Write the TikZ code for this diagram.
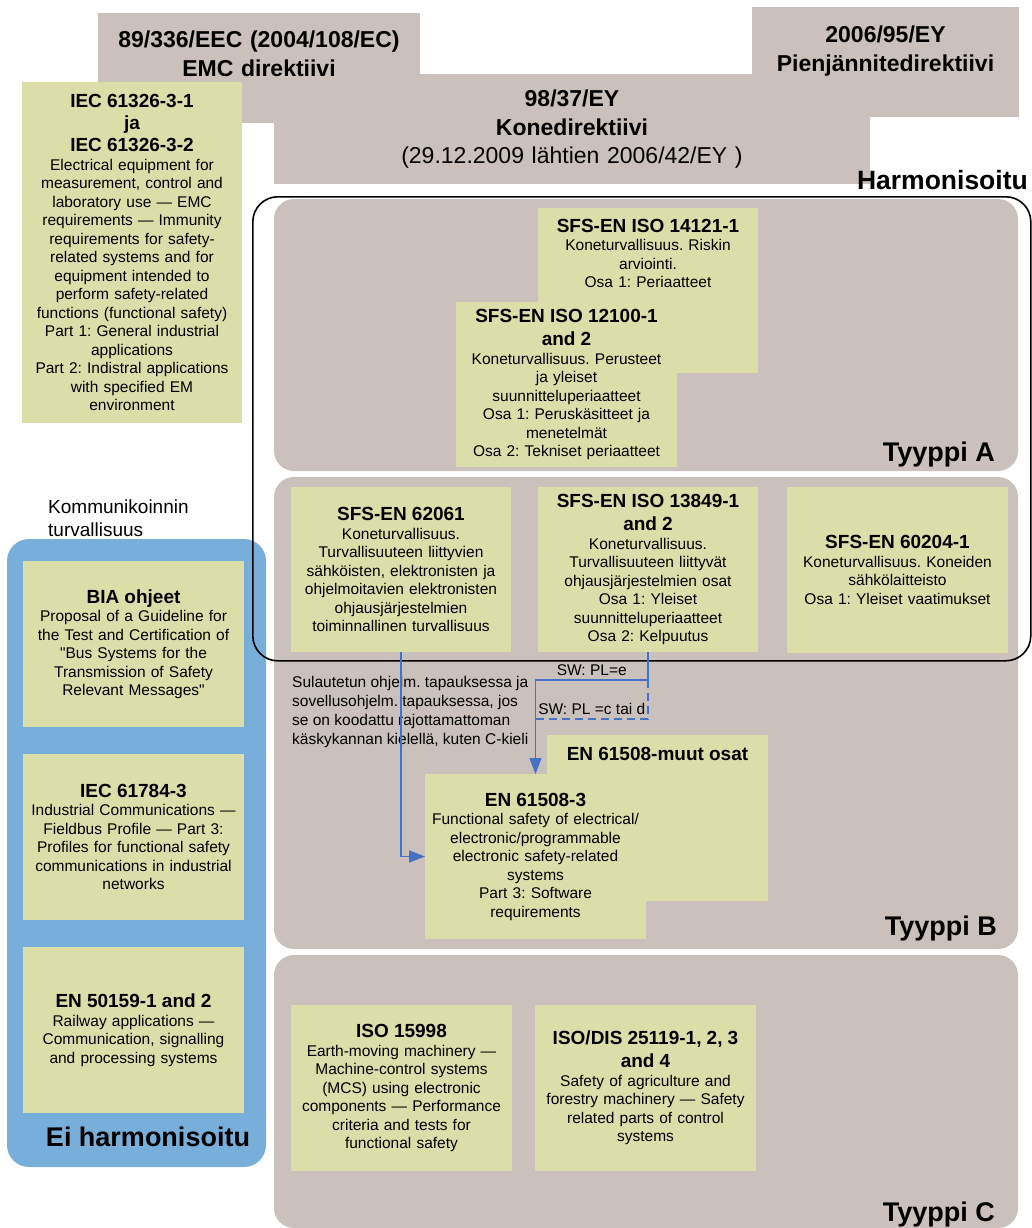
\documentclass[tikz,border=0pt]{standalone}
\usepackage{fontspec}
\setmainfont{Liberation Sans}[Ligatures=TeXOff]
\usetikzlibrary{positioning,arrows.meta}
\setlength{\parindent}{0pt}
\frenchspacing

\definecolor{harmaa}{HTML}{CBC1BC}
\definecolor{vihrea}{HTML}{DCDEAA}
\definecolor{sininen}{HTML}{78AEDA}
\definecolor{nuoli}{HTML}{4472C4}

\newcommand{\otsikko}[1]{{\fontsize{19}{23}\selectfont\bfseries #1\par}}

\tikzstyle{direktiivi} = [rectangle, anchor=north west, inner sep=0pt, outer sep=0pt, fill=harmaa]
\tikzstyle{dirteksti} = [inner sep=0pt, text width=560, align=center, font=\fontsize{23}{28.5}\selectfont]
\tikzstyle{tyyppi} = [rectangle, rounded corners=20pt, anchor=north west, inner sep=0pt, outer sep=0pt, fill=harmaa]
\tikzstyle{tyyppinimi} = [anchor=base east, inner sep=0pt, font=\fontsize{27}{30}\selectfont\bfseries]
\tikzstyle{standardi} = [rectangle, anchor=north west, inner sep=0pt, outer sep=0pt, fill=vihrea, minimum width=221, minimum height=166, text width=216, align=center, font=\fontsize{15.5}{18.5}\selectfont]
\tikzstyle{teksti} = [inner sep=0pt, text width=216, align=center, font=\fontsize{15.5}{18.5}\selectfont]
\tikzstyle{arrow} = [draw=nuoli, line width=1.3pt, -{Triangle[length=16pt, width=12pt]}]
\tikzstyle{katko} = [draw=nuoli, line width=1.3pt, dash pattern=on 8pt off 5pt]

\begin{document}
\begin{tikzpicture}[x=1pt, y=-1pt]
  \useasboundingbox (0,0) rectangle (1031,1228);

  % direktiivit
  \node (emc) [direktiivi, minimum width=322, minimum height=110] at (98,13) {};
  \node (kone) [direktiivi, minimum width=596, minimum height=110] at (274,74) {};
  \node (lvd) [direktiivi, minimum width=267, minimum height=110] at (752,7) {};
  \node (emcnimi) [dirteksti, below=18pt of emc.north] {\bfseries 89/336/EEC (2004/108/EC)\\ EMC direktiivi};
  \node (konenimi) [dirteksti, below=16pt of kone.north] {{\bfseries 98/37/EY\\ Konedirektiivi}\\ (29.12.2009 lähtien 2006/42/EY )};
  \node (lvdnimi) [dirteksti, below=19pt of lvd.north] {\bfseries 2006/95/EY\\ Pienjännitedirektiivi};

  \node (iec61326) [standardi, minimum width=220, minimum height=341] at (22,82) {{\fontsize{19}{22}\selectfont\bfseries IEC 61326-3-1\\ ja\\ IEC 61326-3-2\par}Electrical equipment for\\ measurement, control and\\ laboratory use — EMC\\ requirements — Immunity\\ requirements for safety-\\ related systems and for\\ equipment intended to\\ perform safety-related\\ functions (functional safety)\\ Part 1: General industrial\\ applications\\ Part 2: Indistral applications\\ with specified EM\\ environment};

  \node (harmonisoitu) [anchor=base east, inner sep=0pt, font=\fontsize{26.5}{30}\selectfont\bfseries] at (1028,189) {Harmonisoitu};

  % tyypit
  \node (tyyppiA) [tyyppi, minimum width=744, minimum height=272] at (274,199) {};
  \node (tyyppiB) [tyyppi, minimum width=744, minimum height=472] at (274,477) {};
  \node (tyyppiC) [tyyppi, minimum width=744, minimum height=273] at (274,955) {};
  \node (nimiA) [tyyppinimi] at (995,461) {Tyyppi A};
  \node (nimiB) [tyyppinimi] at (997,935) {Tyyppi B};
  \node (nimiC) [tyyppinimi] at (995,1221) {Tyyppi C};

  % ei harmonisoitu
  \node (eiharm) [tyyppi, fill=sininen, rounded corners=22pt, minimum width=259, minimum height=628] at (7,539) {};
  \node (kommunikointi) [anchor=north west, inner sep=0pt, align=left, font=\fontsize{19}{22.5}\selectfont] at (48,500) {Kommunikoinnin\\ turvallisuus};
  \node (eiharmnimi) [anchor=base, inner sep=0pt, font=\fontsize{27}{30}\selectfont\bfseries] at (148,1146) {Ei harmonisoitu};

  \node (bia) [standardi] at (23,561) {\otsikko{BIA ohjeet}Proposal of a Guideline for\\ the Test and Certification of\\ "Bus Systems for the\\ Transmission of Safety\\ Relevant Messages"};
  \node (iec61784) [standardi] at (23,754) {\otsikko{IEC 61784-3}Industrial Communications —\\ Fieldbus Profile — Part 3:\\ Profiles for functional safety\\ communications in industrial\\ networks};
  \node (en50159) [standardi] at (23,947) {\otsikko{EN 50159-1 and 2}Railway applications —\\ Communication, signalling\\ and processing systems};

  % tyyppi A
  \node (iso14121) [standardi, minimum width=220, minimum height=165] at (538,208) {};
  \node (iso14121teksti) [teksti, below=11pt of iso14121.north] {\otsikko{SFS-EN ISO 14121-1}Koneturvallisuus. Riskin\\ arviointi.\\ Osa 1: Periaatteet};
  \node (iso12100) [standardi, minimum height=165] at (456,302) {\otsikko{SFS-EN ISO 12100-1\\ and 2}Koneturvallisuus. Perusteet\\ ja yleiset\\ suunnitteluperiaatteet\\ Osa 1: Peruskäsitteet ja\\ menetelmät\\ Osa 2: Tekniset periaatteet};

  % tyyppi B
  \node (sfs62061) [standardi, minimum width=220, minimum height=165] at (291,487) {\otsikko{SFS-EN 62061}Koneturvallisuus.\\ Turvallisuuteen liittyvien\\ sähköisten, elektronisten ja\\ ohjelmoitavien elektronisten\\ ohjausjärjestelmien\\ toiminnallinen turvallisuus};
  \node (iso13849) [standardi, minimum width=220, minimum height=165] at (538,487) {\otsikko{SFS-EN ISO 13849-1\\ and 2}Koneturvallisuus.\\ Turvallisuuteen liittyvät\\ ohjausjärjestelmien osat\\ Osa 1: Yleiset\\ suunnitteluperiaatteet\\ Osa 2: Kelpuutus};
  \node (sfs60204) [standardi] at (787,487) {\otsikko{SFS-EN 60204-1}Koneturvallisuus. Koneiden\\ sähkölaitteisto\\ Osa 1: Yleiset vaatimukset};
  \node (muut) [standardi] at (547,735) {};
  \node (muutteksti) [teksti, below=12pt of muut.north] {\otsikko{EN 61508-muut osat}};
  \node (en615083) [standardi, minimum height=165] at (425,774) {\otsikko{EN 61508-3}Functional safety of electrical/\\ electronic/programmable\\ electronic safety-related\\ systems\\ Part 3: Software\\ requirements};

  % tyyppi C
  \node (iso15998) [standardi] at (291,1005) {\otsikko{ISO 15998}Earth-moving machinery —\\ Machine-control systems\\ (MCS) using electronic\\ components — Performance\\ criteria and tests for\\ functional safety};
  \node (iso25119) [standardi] at (535,1005) {\otsikko{ISO/DIS 25119-1, 2, 3\\ and 4}Safety of agriculture and\\ forestry machinery — Safety\\ related parts of control\\ systems};

  % harmonisoitu-kehys
  \node (kehys) [draw=black, line width=1.6pt, rounded corners=25pt, anchor=north west, inner sep=0pt, minimum width=778, minimum height=464] at (252,196) {};

  \node (huomautus) [anchor=north west, inner sep=0pt, align=left, font=\fontsize{15.5}{19}\selectfont] at (292,676) {Sulautetun ohjelm. tapauksessa ja\\ sovellusohjelm. tapauksessa, jos\\ se on koodattu rajottamattoman\\ käskykannan kielellä, kuten C-kieli};

  % nuolet
  \draw [arrow] (sfs62061.south) |- (en615083.west);
  \draw [arrow] (iso13849.south) -- ++(0,28) -| node[pos=0.25, above, font=\fontsize{15.5}{18.5}\selectfont] {SW: PL=e} (en615083.north);
  \path (iso13849.south) ++(0,67) coordinate (plcd);
  \draw [katko] (iso13849.south) ++(0,28) -- (plcd) -- node[above, font=\fontsize{15.5}{18.5}\selectfont] {SW: PL =c tai d} (plcd -| en615083.north);
\end{tikzpicture}
\end{document}
